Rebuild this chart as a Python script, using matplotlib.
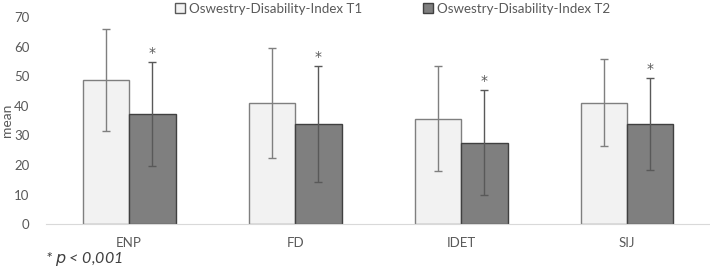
import numpy as np
import matplotlib
matplotlib.use("Agg")
import matplotlib.pyplot as plt
from matplotlib.patches import Patch

categories = ["ENP", "FD", "IDET", "SIJ"]
t1_mean = [48.6, 41.1, 35.6, 41.1]
t1_sd = [17.2, 18.6, 17.8, 14.8]
t2_mean = [37.2, 33.8, 27.5, 33.8]
t2_sd = [17.5, 19.6, 17.8, 15.5]
series_names = ["Oswestry-Disability-Index T1", "Oswestry-Disability-Index T2"]

plt.rcParams['font.family'] = ['Lato', 'DejaVu Sans']
txt = '#595959'

fig = plt.figure(figsize=(7.1, 2.71), dpi=100)
ax = fig.add_axes([0.065, 0.173, 0.935, 0.764])

x = np.arange(len(categories))
w = 0.28
ax.bar(x - w / 2, t1_mean, w, color='#f2f2f2', edgecolor='#7f7f7f', linewidth=1.0, zorder=2)
ax.bar(x + w / 2, t2_mean, w, color='#7f7f7f', edgecolor='#404040', linewidth=1.0, zorder=2)
ax.errorbar(x - w / 2, t1_mean, yerr=t1_sd, fmt='none', ecolor='#7f7f7f', elinewidth=1.0, capsize=3, capthick=1.0, zorder=3)
ax.errorbar(x + w / 2, t2_mean, yerr=t2_sd, fmt='none', ecolor='#595959', elinewidth=1.0, capsize=3, capthick=1.0, zorder=3)

# significance markers
for xi, m, s in zip(x, t2_mean, t2_sd):
    ax.text(xi + w / 2, m + s + 3.2, '*', ha='center', va='center', fontsize=10,
            color='#595959', family='DejaVu Sans')

ax.set_xlim(-0.5, len(categories) - 0.5)
ax.set_ylim(0, 70)
ax.set_yticks(range(0, 71, 10))
ax.set_xticks(x)
ax.set_xticklabels(categories)
ax.tick_params(axis='both', length=0, labelsize=9.5, colors=txt)
ax.tick_params(axis='x', pad=9)
ax.tick_params(axis='y', pad=12)
for side in ['top', 'right', 'left']:
    ax.spines[side].set_visible(False)
ax.spines['bottom'].set_color('#d9d9d9')
ax.set_ylabel('mean', fontsize=10, color=txt, labelpad=1)

handles = [Patch(facecolor='#f2f2f2', edgecolor='#595959'),
           Patch(facecolor='#7f7f7f', edgecolor='#404040')]
fig.legend(handles, series_names, loc='upper center', bbox_to_anchor=(0.553, 1.035), ncol=2,
           frameon=False, fontsize=9.6, handlelength=0.75, handleheight=0.75,
           handletextpad=0.3, columnspacing=4.6, labelcolor=txt)

fig.text(0.063, 0.03, '* $\\it{p}$ < 0,001', fontsize=11.5, color='#404040', style='italic')

fig.savefig('out.png', dpi=100)
